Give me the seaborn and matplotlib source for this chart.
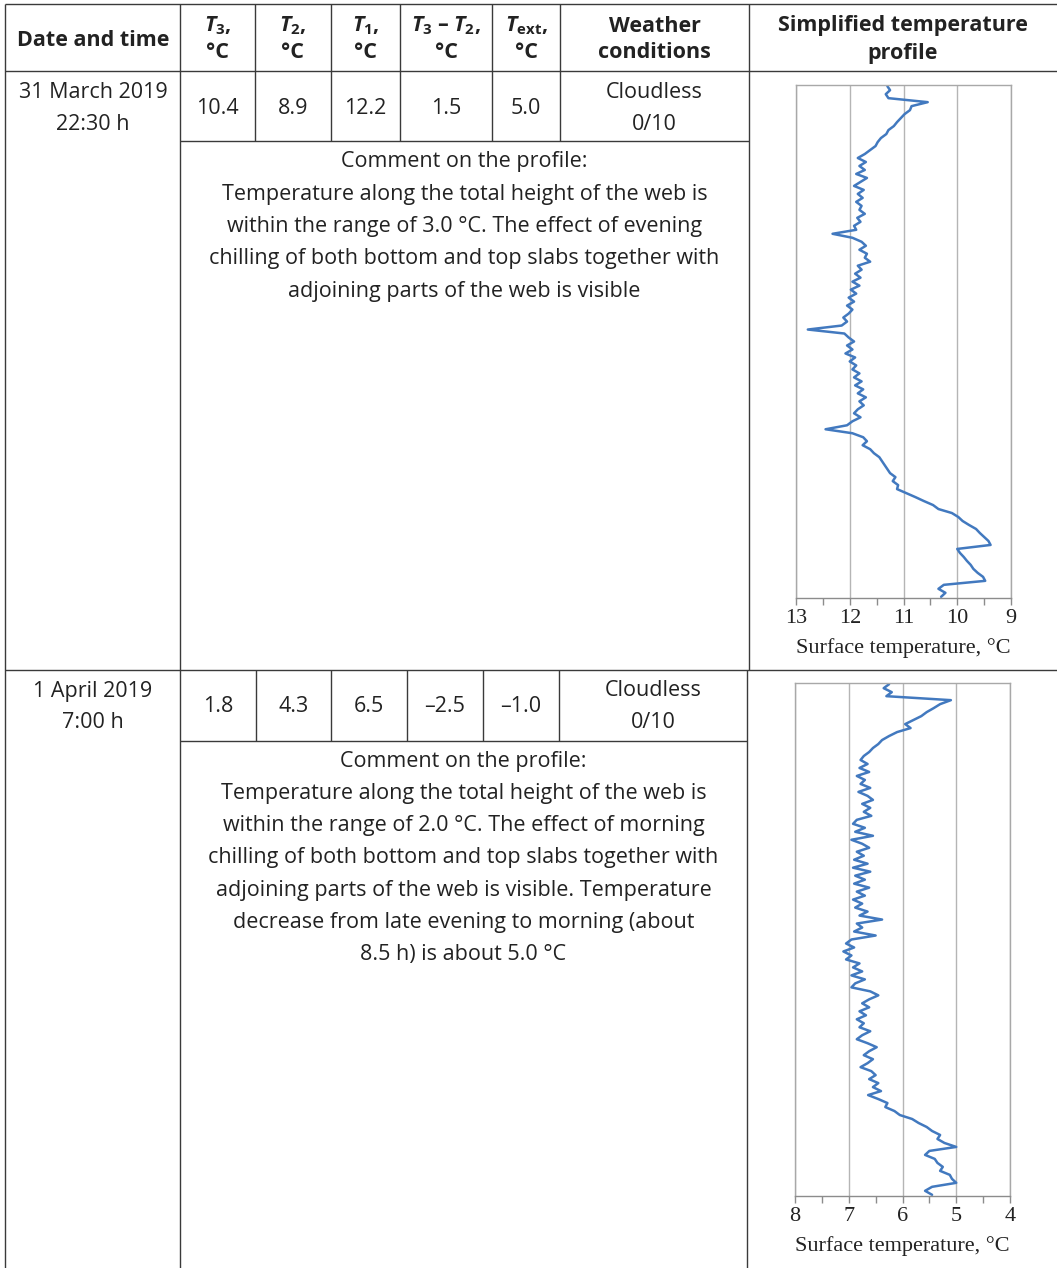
import matplotlib
matplotlib.use("Agg")
import matplotlib.pyplot as plt
from matplotlib.ticker import MultipleLocator
import seaborn as sns
import numpy as np

# ---- table values ----
dates = [["31 March 2019", "22:30 h"], ["1 April 2019", "7:00 h"]]
t3 = [10.4, 1.8]
t2 = [8.9, 4.3]
t1 = [12.2, 6.5]
t3_minus_t2 = [1.5, -2.5]
t_ext = [5.0, -1.0]
weather = [["Cloudless", "0/10"], ["Cloudless", "0/10"]]
comments = [
    ["Comment on the profile:",
     "Temperature along the total height of the web is",
     "within the range of 3.0 °C. The effect of evening",
     "chilling of both bottom and top slabs together with",
     "adjoining parts of the web is visible"],
    ["Comment on the profile:",
     "Temperature along the total height of the web is",
     "within the range of 2.0 °C. The effect of morning",
     "chilling of both bottom and top slabs together with",
     "adjoining parts of the web is visible. Temperature",
     "decrease from late evening to morning (about",
     "8.5 h) is about 5.0 °C"],
]
header_top = ["$T_3$,", "$T_2$,", "$T_1$,", "$T_3$ – $T_2$,", "$T_\\mathrm{ext}$,",
              "Weather", "Simplified temperature"]
header_bottom = ["°C", "°C", "°C", "°C", "°C", "conditions", "profile"]

# surface temperature along web height, read from top to bottom
profile_31mar = [
    11.30, 11.25, 11.33, 11.28, 10.55, 10.85, 10.88, 10.98, 11.05, 11.12,
    11.18, 11.28, 11.32, 11.42, 11.48, 11.52, 11.62, 11.72, 11.85, 11.70,
    11.82, 11.72, 11.88, 11.68, 11.80, 11.92, 11.74, 11.85, 11.76, 11.88,
    11.78, 11.82, 11.72, 11.86, 11.80, 11.92, 11.88, 12.32, 11.95, 11.78,
    11.70, 11.82, 11.68, 11.72, 11.62, 11.85, 11.78, 11.90, 11.80, 11.95,
    11.82, 11.98, 11.88, 12.02, 11.92, 12.05, 11.95, 12.02, 12.12, 12.05,
    12.15, 12.78, 12.10, 12.02, 11.92, 12.05, 11.95, 12.08, 11.90, 12.00,
    11.88, 11.95, 11.82, 11.92, 11.78, 11.90, 11.75, 11.85, 11.70, 11.82,
    11.74, 11.85, 11.92, 11.80, 11.95, 12.05, 12.45, 11.95, 11.75, 11.68,
    11.76, 11.62, 11.55, 11.45, 11.40, 11.35, 11.30, 11.25, 11.15, 11.20,
    11.10, 11.12, 10.95, 10.78, 10.62, 10.45, 10.35, 10.10, 9.98, 9.90,
    9.78, 9.65, 9.58, 9.50, 9.42, 9.38, 10.00, 9.95, 9.88, 9.82,
    9.75, 9.70, 9.62, 9.52, 9.48, 10.25, 10.35, 10.22, 10.30,
]
profile_1apr = [
    6.25, 6.35, 6.20, 6.30, 5.10, 5.30, 5.42, 5.55, 5.65, 5.80,
    5.95, 5.85, 6.10, 6.25, 6.38, 6.45, 6.55, 6.62, 6.72, 6.78,
    6.65, 6.80, 6.62, 6.85, 6.70, 6.78, 6.60, 6.82, 6.65, 6.55,
    6.75, 6.60, 6.72, 6.58, 6.85, 6.92, 6.70, 6.88, 6.55, 6.95,
    6.75, 6.62, 6.85, 6.72, 6.90, 6.65, 6.92, 6.60, 6.88, 6.70,
    6.90, 6.62, 6.85, 6.70, 6.92, 6.75, 6.88, 6.65, 6.80, 6.38,
    6.85, 6.75, 6.90, 6.50, 6.95, 7.05, 6.90, 7.10, 6.95, 7.05,
    6.80, 6.92, 6.75, 6.95, 6.70, 6.88, 6.95, 6.60, 6.45, 6.62,
    6.75, 6.62, 6.80, 6.68, 6.85, 6.72, 6.80, 6.60, 6.75, 6.85,
    6.65, 6.48, 6.62, 6.72, 6.55, 6.65, 6.78, 6.58, 6.50, 6.62,
    6.45, 6.55, 6.40, 6.64, 6.45, 6.28, 6.32, 6.15, 6.05, 5.82,
    5.70, 5.55, 5.45, 5.30, 5.35, 5.22, 5.00, 5.50, 5.58, 5.40,
    5.35, 5.25, 5.30, 5.12, 5.08, 5.00, 5.45, 5.58, 5.45,
]
profiles = [profile_31mar, profile_1apr]
profile_limits = [(13, 9), (8, 4)]

W, H = 1057, 1268
TEXT = "#222222"
LINE = "#3a3a3a"
FONT = "Open Sans"

sns.set_style("white")
plt.rcParams["font.family"] = [FONT, "DejaVu Sans"]
plt.rcParams["mathtext.fontset"] = "custom"
plt.rcParams["mathtext.it"] = f"{FONT}:italic:bold"
plt.rcParams["mathtext.rm"] = f"{FONT}:bold"
plt.rcParams["mathtext.bf"] = f"{FONT}:bold"

fig = plt.figure(figsize=(W / 100, H / 100), dpi=100)
tab = fig.add_axes([0, 0, 1, 1])
tab.set_xlim(0, W)
tab.set_ylim(H, 0)
tab.axis("off")


def hline(y, x0, x1):
    tab.plot([x0, x1], [y, y], color=LINE, lw=1.0, solid_capstyle="butt")


def vline(x, y0, y1):
    tab.plot([x, x], [y0, y1], color=LINE, lw=1.0, solid_capstyle="butt")


# grid of the table
hline(4, 5, W)
hline(71, 5, W)
hline(141, 180, 749)
hline(670, 5, W)
hline(741, 180, 747)
vline(5, 4, H)
vline(180, 4, H)
vline(749, 4, 670)
vline(747, 670, H)
head_cols = [180, 255, 331, 400, 492, 560, 749]
row_cols = [[180, 255, 331, 400, 492, 560, 749], [180, 256, 331, 407, 483, 559, 747]]
for x in head_cols[1:-1]:
    vline(x, 4, 141)
for x in row_cols[1][1:-1]:
    vline(x, 670, 741)

fs = 15.5
# header
tab.text(93, 40, "Date and time", ha="center", va="center", fontsize=fs,
         fontweight="bold", color=TEXT)
centers = [(a + b) / 2 for a, b in zip(head_cols[:-1], head_cols[1:])] + [(749 + W) / 2]
for cx, top, bot in zip(centers, header_top, header_bottom):
    tab.text(cx, 26, top, ha="center", va="center", fontsize=fs, fontweight="bold", color=TEXT)
    tab.text(cx, 53, bot, ha="center", va="center", fontsize=fs, fontweight="bold", color=TEXT)

# data rows
row_tops = [71, 670]
for r, top in enumerate(row_tops):
    cols = row_cols[r]
    cx = [(a + b) / 2 for a, b in zip(cols[:-1], cols[1:])]
    tab.text(93, top + 21, dates[r][0], ha="center", va="center", fontsize=fs, color=TEXT)
    tab.text(93, top + 53, dates[r][1], ha="center", va="center", fontsize=fs, color=TEXT)
    vals = [t3[r], t2[r], t1[r], t3_minus_t2[r], t_ext[r]]
    for x, v in zip(cx, vals):
        tab.text(x, top + 37, f"{v:.1f}".replace("-", "–"), ha="center", va="center",
                 fontsize=fs, color=TEXT)
    tab.text(cx[5], top + 21, weather[r][0], ha="center", va="center", fontsize=fs, color=TEXT)
    tab.text(cx[5], top + 53, weather[r][1], ha="center", va="center", fontsize=fs, color=TEXT)
    mid = (cols[0] + cols[-1]) / 2
    for k, line in enumerate(comments[r]):
        tab.text(mid, top + 91 + k * 32.3, line, ha="center", va="center",
                 fontsize=fs, color=TEXT)

# temperature profiles
boxes = [(796, 1011, 85, 598), (795, 1010, 683, 1196)]
for prof, (lo, hi), (x0, x1, y0, y1) in zip(profiles, profile_limits, boxes):
    ax = fig.add_axes([x0 / W, 1 - y1 / H, (x1 - x0) / W, (y1 - y0) / H])
    height = np.arange(len(prof))
    sns.lineplot(x=prof, y=height, sort=False, estimator=None, orient="y",
                 color="#4279bf", linewidth=1.8, ax=ax)
    ax.set_xlim(lo, hi)
    ax.set_ylim(len(prof) - 0.7, -0.3)
    ax.set_yticks([])
    ax.xaxis.set_major_locator(MultipleLocator(1))
    ax.xaxis.set_minor_locator(MultipleLocator(0.5))
    ax.grid(axis="x", which="major", color="#b5b5b5", linewidth=1.0)
    ax.tick_params(axis="x", which="both", direction="out", bottom=True,
                   length=5, width=1.0, color="#8c8c8c", pad=3,
                   labelsize=16, labelcolor=TEXT)
    for lab in ax.get_xticklabels():
        lab.set_family("Liberation Serif")
    ax.set_xlabel("Surface temperature, °C", family="Liberation Serif",
                  fontsize=16, color=TEXT, labelpad=7)
    ax.set_ylabel("")
    for side in ["left", "right", "top", "bottom"]:
        ax.spines[side].set_color("#a8a8a8")
        ax.spines[side].set_linewidth(1.0)
    ax.spines["bottom"].set_color("#8c8c8c")

fig.savefig("out.png", dpi=100)
